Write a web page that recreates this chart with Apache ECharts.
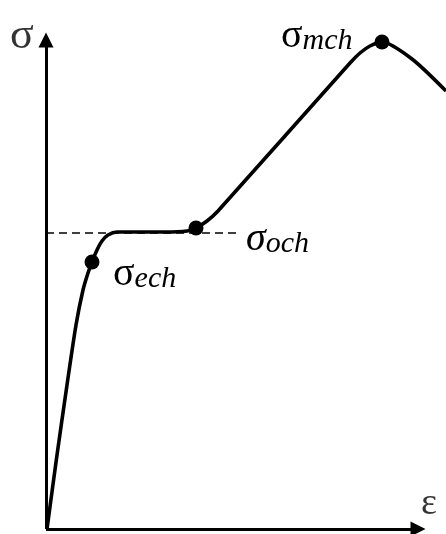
<!DOCTYPE html>
<html>
<head>
<meta charset="utf-8">
<script src="https://cdn.jsdelivr.net/npm/echarts@6/dist/echarts.min.js"></script>
<style>
  html, body { margin: 0; padding: 0; background: #fff; }
  #chart { width: 446px; height: 534px; }
</style>
</head>
<body>
<div id="chart"></div>
<script>
// Stress–strain curve (schematic): strain along x, stress along y
const strainValues = [1, 11, 21, 30, 37, 42, 46, 51, 56, 62, 71, 94, 119, 141, 150, 161, 172, 304, 314, 324, 336, 366, 400];
const stressValues = [0, 74, 144, 204, 239, 256, 267, 279, 288, 294, 297, 297, 297, 298, 301, 308, 318, 466, 476, 483, 487, 470, 438];

// Characteristic points on the curve
const keyNames  = ['ech', 'och', 'mch'];
const keyStrain = [46, 150, 336];
const keyStress = [267, 301, 487];

// Dashed reference level for σ_och: [start strain, end strain, stress]
const refLine = [0, 191, 296];

// Axis extents (arrow tips)
const axisEnds = [379, 496];

const FONT = '"Liberation Serif", "Times New Roman", serif';

const chart = echarts.init(document.getElementById('chart'), null, { renderer: 'canvas' });

const curveData = strainValues.map((x, i) => [x, stressValues[i]]);

const richStyles = {
  s:  { fontFamily: FONT, fontSize: 40, color: '#000', lineHeight: 40, verticalAlign: 'top' },
  si: { fontFamily: FONT, fontSize: 40, fontStyle: 'italic', color: '#000', lineHeight: 40, verticalAlign: 'top' },
  sub:{ fontFamily: FONT, fontSize: 30, fontStyle: 'italic', color: '#000', lineHeight: 25, verticalAlign: 'bottom' }
};

// label text and placement relative to each point
const keyLabel = {
  ech: { text: '{s|σ}{sub|ech}', offset: [21, -8] },
  och: { text: '{si|σ}{sub|och}', offset: [50, -9] },
  mch: { text: '{s|σ}{sub|mch}', offset: [-101, -26] }
};

const keyData = keyNames.map((n, i) => ({
  name: n,
  value: [keyStrain[i], keyStress[i]],
  label: { offset: keyLabel[n].offset }
}));

const option = {
  animation: false,
  backgroundColor: '#fff',
  grid: { left: 46, right: 0, top: 29, bottom: 5 },
  xAxis: { type: 'value', min: 0, max: 400, show: false },
  yAxis: { type: 'value', min: 0, max: 500, show: false },
  series: [
    {
      // coordinate axes with arrowheads, plus dashed reference level
      type: 'line',
      data: [],
      silent: true,
      markLine: {
        silent: true,
        animation: false,
        label: { show: false },
        emphasis: { disabled: true },
        data: [
          [
            { coord: [0, 0], symbol: 'none', lineStyle: { color: '#000', width: 3, type: 'solid' } },
            { coord: [0, axisEnds[1] - 7], symbol: 'triangle', symbolSize: [15, 15] }
          ],
          [
            { coord: [0, 0], symbol: 'none', lineStyle: { color: '#000', width: 3, type: 'solid' } },
            { coord: [axisEnds[0] - 7, 0], symbol: 'triangle', symbolSize: [15, 15] }
          ],
          [
            { coord: [refLine[0], refLine[2]], symbol: 'none', lineStyle: { color: '#000', width: 1.5, type: [8, 5] } },
            { coord: [refLine[1], refLine[2]], symbol: 'none' }
          ]
        ]
      }
    },
    {
      type: 'line',
      data: curveData,
      smooth: 0.25,
      showSymbol: false,
      silent: true,
      lineStyle: { color: '#000', width: 3.6 }
    },
    {
      type: 'scatter',
      data: keyData,
      symbol: 'circle',
      symbolSize: 15,
      silent: true,
      itemStyle: { color: '#000', opacity: 1 },
      label: {
        show: true,
        position: 'inside',
        align: 'left',
        verticalAlign: 'top',
        rich: richStyles,
        formatter: p => keyLabel[p.name].text
      }
    },
    {
      // axis names
      type: 'scatter',
      data: [
        { name: 'σ', value: [0, axisEnds[1]], label: { offset: [-36, -19], fontSize: 44 } },
        { name: 'ε', value: [axisEnds[0], 0], label: { offset: [-4, -44], fontSize: 38 } }
      ],
      symbolSize: 1,
      silent: true,
      itemStyle: { color: 'rgba(0,0,0,0)' },
      label: {
        show: true,
        position: 'inside',
        align: 'left',
        verticalAlign: 'top',
        fontFamily: FONT,
        color: '#000',
        formatter: p => p.name
      }
    }
  ]
};

chart.setOption(option);
</script>
</body>
</html>
